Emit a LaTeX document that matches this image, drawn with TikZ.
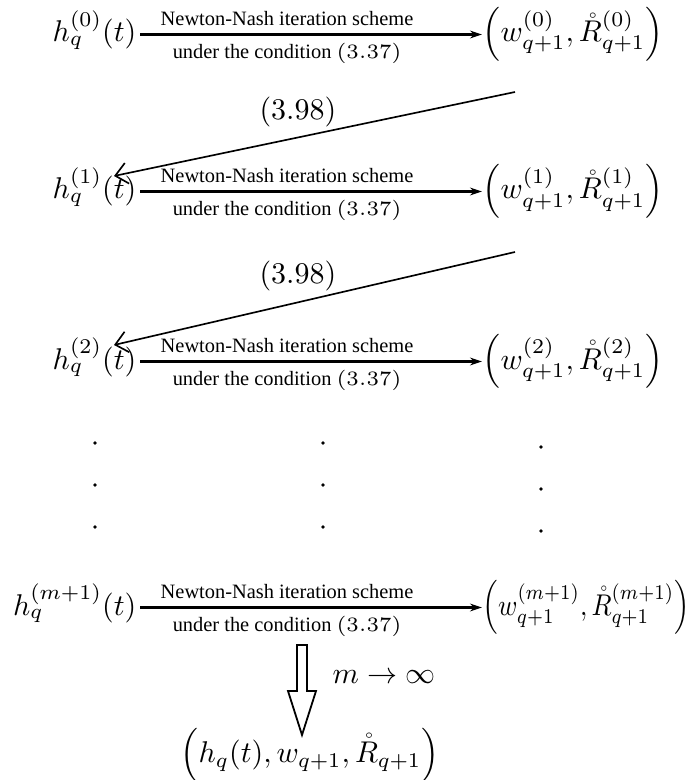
\RequirePackage{fix-cm}
\documentclass[tikz,border=0pt]{standalone}
\usepackage{amsmath,amssymb}
\usepackage[no-math]{fontspec}
\setmainfont{Liberation Serif}
\usepackage{tikz}
\usetikzlibrary{arrows.meta,positioning,calc}
\newcommand{\Hq}[1]{h_q^{(#1)}(t)}
\newcommand{\Wq}[1]{\Big(w^{(#1)}_{q+1},\mathring{R}^{(#1)}_{q+1}\Big)}
\newcommand{\lblfont}{\fontsize{6.8}{8}\selectfont}

\begin{document}
\begin{tikzpicture}[x=0.3333pt,y=-0.3333pt,
    iter/.style={-{Stealth[length=4pt,width=2.6pt]},line width=0.7pt},
    back/.style={-{Straight Barb[length=4pt,width=7pt]},line width=0.55pt},
    lbl/.style={font=\lblfont,inner sep=2.5pt},
    dot/.style={circle,fill,inner sep=0pt,minimum size=1.3pt}]
  \useasboundingbox (0,0) rectangle (688,780);
  % the four rows of the scheme
  \foreach \k/\i/\y/\sx in {0/0/42/1,1/1/199/1,2/2/369/1,3/m+1/615/0.87}{
    \coordinate (p\k) at (482,\y);
    \node[anchor=base east,inner sep=1pt] (h\k) at (140,\y) {$\Hq{\i}$};
    \node[anchor=base west,inner sep=0pt,xscale=\sx,transform shape] (w\k) at (p\k) {$\Wq{\i}$};
    \draw[iter] ([yshift=2.5pt]h\k.base east) -- ([yshift=2.5pt]w\k.base west)
      node[lbl,above,pos=0.43] (ns\k) {Newton-Nash iteration scheme}
      node[lbl,below,pos=0.43] (uc\k) {under the condition $(3.37)$};
  }
  % feeding back
  \coordinate (b0) at (515,92);
  \coordinate (e1) at (114,176);
  \coordinate (b1) at (515,252);
  \coordinate (e2) at (114,345);
  \draw[back] (b0) -- (e1) node[pos=0.44,anchor=south east,inner sep=0.5pt] (r1) {$(3.98)$};
  \draw[back] (b1) -- (e2) node[pos=0.44,anchor=south east,inner sep=0.5pt] (r2) {$(3.98)$};
  % dots
  \foreach \c/\x/\s in {1/95/0,2/323/0,3/541/4}
    \foreach \r/\y in {1/443,2/485,3/527}
      \node[dot] (d\c\r) at (\x,\y+\s) {};
  % limit
  \node[inner sep=0pt] (res) at (310,755) {$\Big(h_q(t),w_{q+1},\mathring{R}_{q+1}\Big)$};
  \coordinate (dtip) at (302,735);
  \coordinate (dtop) at (dtip |- uc3.south);
  \draw[line width=0.6pt,line join=miter] ($(dtop)+(-5,0)$) -- ($(dtop)+(5,0)$)
    -- ($(dtip)+(5,-44)$) -- ($(dtip)+(14,-44)$) -- (dtip)
    -- ($(dtip)+(-14,-44)$) -- ($(dtip)+(-5,-44)$) -- cycle;
  \node[right] (lim) at (322,677) {$m\to\infty$};
\end{tikzpicture}
\end{document}
